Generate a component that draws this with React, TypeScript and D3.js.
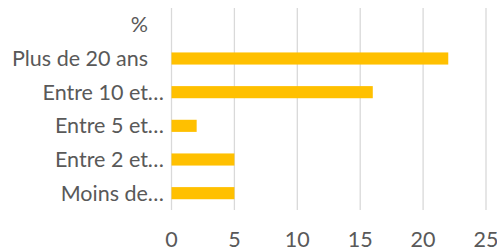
import * as d3 from "d3";
import React from "react";

const categories = ["%", "Plus de 20 ans", "Entre 10 et…", "Entre 5 et…", "Entre 2 et…", "Moins de…"];
const values = [null, 22, 16, 2, 5, 5];
const ticks = [0, 5, 10, 15, 20, 25];

const width = 497
const height = 252
const font = "Lato, 'Open Sans', sans-serif"

const App = () => {
    const x = d3.scaleLinear().domain([0, 25]).range([171.5, 486])
    const y = d3.scaleBand().domain(categories).range([8, 210]).paddingInner(0.64).paddingOuter(0.32)

    // full labels leave room for the ellipsis the truncated ones get
    const labelX = c => c.endsWith("…") ? 164 : 148

    return (
        <svg width={width} height={height} style={{position: "absolute", left: 0, top: 0}}
             fontFamily={font}>
            <rect width={width} height={height} fill="#fff"/>
            <g>
                {ticks.map(t => (
                    <line key={t} x1={x(t)} x2={x(t)} y1={8} y2={210} stroke="#d9d9d9" strokeWidth={1.3}/>
                ))}
            </g>
            <g>
                {categories.map((c, i) => values[i] == null ? null : (
                    <rect key={c} x={x(0)} y={y(c)} width={x(values[i]) - x(0)} height={y.bandwidth()}
                          fill="#ffc000"/>
                ))}
            </g>
            <g fill="#595959" fontSize={21.5}>
                {categories.map(c => (
                    <text key={c} x={labelX(c)} y={y(c) + y.bandwidth() / 2} dy="0.35em" textAnchor="end">{c}</text>
                ))}
                {ticks.map(t => (
                    <text key={t} x={x(t)} y={247} textAnchor="middle">{t}</text>
                ))}
            </g>
        </svg>
    )
}

export default App;
